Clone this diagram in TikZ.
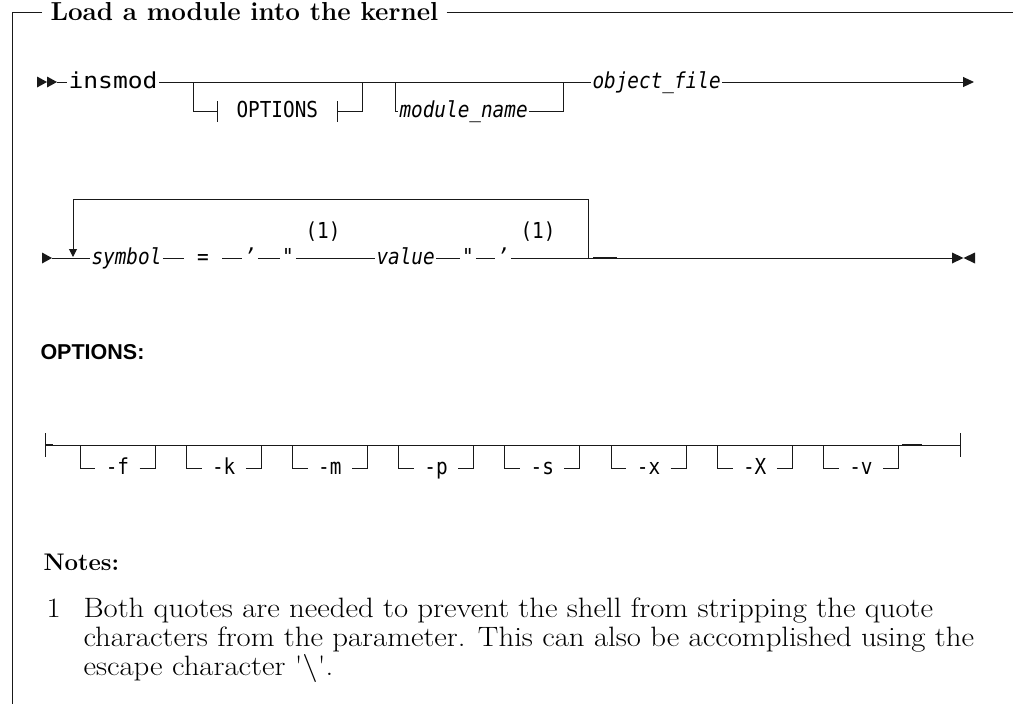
\documentclass[tikz,border=0pt]{standalone}
\usepackage{fontspec}
\usetikzlibrary{arrows.meta}
\newfontfamily\synfont[FakeStretch=0.88,ItalicFont={DejaVu Sans Mono Oblique}]{DejaVu Sans Mono}
\newfontfamily\synwide[FakeStretch=1.12]{DejaVu Sans Mono}
\newfontfamily\headfont{Liberation Sans}
\newfontfamily\notefont[FakeStretch=1.1]{Latin Modern Roman}

\begin{document}
\begin{tikzpicture}[x=1pt,y=-1pt,line width=1pt,black!90,
  synt/.style={font=\synfont\fontsize{22}{24}\selectfont,text=black,inner ysep=0pt,inner xsep=1pt,text height=12pt,text depth=0pt},
  endarrow/.style={-{Triangle[length=11pt,width=10pt]}},
  loopdown/.style={-{Triangle[length=8pt,width=8pt]}},
  notetext/.style={font=\notefont\fontsize{28}{29}\selectfont,text=black,anchor=base west,inner sep=0pt}]
  \useasboundingbox (0,0) rectangle (1013,704);
  % frame and title
  \node[font=\bfseries\fontsize{26}{28}\selectfont,text=black,anchor=west,inner xsep=8pt] (title) at (42,12) {Load a module into the kernel};
  \draw (title.west) -| (12,704);
  \draw (title.east) -- (1013,12);

  % first line: insmod [OPTIONS] [module_name] object_file
  \fill (37,76.5) -- (47,82) -- (37,87.5) -- cycle (47,76.5) -- (57,82) -- (47,87.5) -- cycle;
  \coordinate (start) at (57,82);
  \node[synt,font=\synwide\fontsize{22}{24}\selectfont,anchor=west] (insmod) at (67,82) {insmod};
  \node[synt,anchor=west,inner xsep=19pt] (options) at (217,111) {OPTIONS};
  \node[synt,anchor=west] (modname) at (398,111) {\itshape module\_name};
  \node[synt,anchor=west] (objfile) at (591,82) {\itshape object\_file};
  \coordinate (optin) at (193,82);
  \coordinate (optout) at (362,82);
  \coordinate (modin) at (395,82);
  \coordinate (modout) at (563,82);
  \coordinate (end1) at (974,82);
  \draw (start) -- (insmod.west);
  \draw (insmod.east) -- (objfile.west);
  \draw[endarrow] (objfile.east) -- (end1);
  \draw (optin) |- (options.west);
  \draw (options.east) -| (optout);
  \draw ([yshift=10pt]options.west) -- ([yshift=-11pt]options.west)
        ([yshift=10pt]options.east) -- ([yshift=-11pt]options.east);
  \draw (modin) |- (modname.west);
  \draw (modname.east) -| (modout);

  % second line: repeated symbol=value
  \fill (42,252.5) -- (52,258) -- (42,263.5) -- cycle;
  \coordinate (start2) at (52,258);
  \node[synt,anchor=west] (symbol) at (90,258) {\itshape symbol};
  \node[synt,inner xsep=13pt] (eq) at (203,258) {=};
  \node[synt,inner xsep=1.5pt] (sq1) at (250,258) {\itshape ’};
  \node[synt,inner xsep=1.5pt] (dq1) at (288,258) {\itshape "};
  \node[synt,anchor=west] (value) at (375,258) {\itshape value};
  \node[synt,inner xsep=1.5pt] (dq2) at (468,258) {\itshape "};
  \node[synt,inner xsep=1.5pt] (sq2) at (503,258) {\itshape ’};
  \node[synt] (fn1) at (323,232) {(1)};
  \node[synt] (fn2) at (538,232) {(1)};
  \coordinate (loopr) at (588,258);
  \coordinate (loopt) at (73,199);
  \coordinate (loopl) at (73,257);
  \coordinate (end2) at (952,258);
  \foreach \a/\b in {start2/symbol,symbol/eq,eq/sq1,sq1/dq1,dq1/value,value/dq2,dq2/sq2,sq2/end2}
    \draw (\a) -- (\b);
  \draw[loopdown] (loopr) |- (loopt) -- (loopl);
  \draw[line width=2.2pt] (593,258) -- (617,258);
  \fill (952,252.5) -- (963.5,258) -- (952,263.5) -- cycle (975,252.5) -- (963.5,258) -- (975,263.5) -- cycle;

  % OPTIONS fragment
  \node[font=\headfont\bfseries\fontsize{21.5}{24}\selectfont,text=black,anchor=west,inner sep=0pt] (optshead) at (40,352) {OPTIONS:};
  \coordinate (ostart) at (45,445);
  \coordinate (oend) at (960,445);
  \draw (ostart) -- (oend);
  \draw ([yshift=12pt]ostart) -- ([yshift=-12pt]ostart)
        ([yshift=12pt]oend) -- ([yshift=-12pt]oend);
  \draw[line width=2.2pt] (45,445) -- (53,445) (902,445) -- (922,445);
  \foreach \lbl [count=\i from 0] in {-f,-k,-m,-p,-s,-x,-X,-v} {
    \pgfmathsetmacro\xa{80+106.2*\i}
    \coordinate (oin\i) at (\xa,445);
    \coordinate (oout\i) at (\xa+75,445);
    \node[synt,inner xsep=10pt] (opt\i) at (\xa+37.5,468) {\lbl};
    \draw (oin\i) |- (opt\i.west);
    \draw (opt\i.east) -| (oout\i);
  }

  % notes
  \node[font=\bfseries\fontsize{24}{28}\selectfont,text=black,anchor=base west,inner sep=0pt] (notes) at (43,570) {Notes:};
  \node[notetext] (num1) at (46,617) {1};
  \node[notetext] (note1a) at (83,617) {Both quotes are needed to prevent the shell from stripping the quote};
  \node[notetext] (note1b) at (83,646) {characters from the parameter. This can also be accomplished using the};
  \node[notetext] (note1c) at (83,675) {escape character '\textbackslash'.};
\end{tikzpicture}
\end{document}
